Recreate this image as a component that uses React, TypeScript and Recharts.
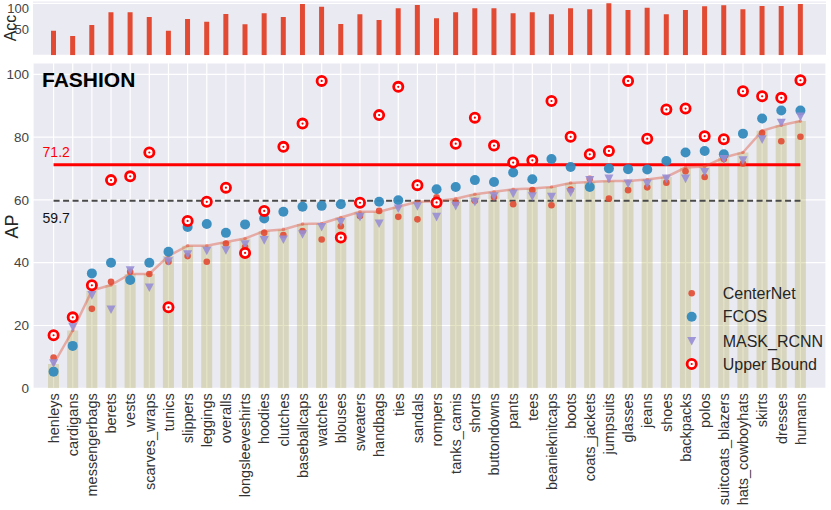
import React from "react";
import {
    ComposedChart, BarChart, Bar, Line, Scatter, XAxis, YAxis, CartesianGrid, ReferenceLine,
} from "recharts";

const categories = [
    "henleys", "cardigans", "messengerbags", "berets", "vests", "scarves_wraps", "tunics", "slippers",
    "leggings", "overalls", "longsleeveshirts", "hoodies", "clutches", "baseballcaps", "watches", "blouses",
    "sweaters", "handbags", "ties", "sandals", "rompers", "tanks_camis", "shorts", "buttondowns", "pants",
    "tees", "beanieknitcaps", "boots", "coats_jackets", "jumpsuits", "glasses", "jeans", "shoes",
    "backpacks", "polos", "suitcoats_blazers", "hats_cowboyhats", "skirts", "dresses", "humans",
];

const acc = [
    47.3, 37.1, 58.3, 82.7, 82.7, 73.7, 47.3, 69.8, 64.6, 79.4, 59.6, 80.8, 73.7, 98.7, 93.5, 60.2,
    78.8, 67.9, 90.4, 96.7, 71.2, 82.7, 90.4, 90.4, 80.8, 82.7, 78.8, 90.4, 88.5, 100, 87.1, 91.5,
    78.8, 87.1, 94.2, 96.2, 88.5, 94.8, 94.8, 98.7,
];

const meanAP = [
    7.7, 18.4, 31.1, 32.9, 36.4, 36.4, 42.1, 45.4, 45.4, 46.6, 47.7, 50.1, 50.6, 52.3, 52.5, 54.4,
    56.2, 56.2, 57.8, 59.4, 59.6, 60.4, 61.8, 62.6, 63.4, 63.6, 64.1, 65.4, 65.7, 66.0, 66.0, 66.5,
    67.3, 70.3, 70.6, 73.5, 75.1, 82.0, 83.8, 85.1,
];

const centerNet = [
    9.8, 22.1, 25.3, 33.9, 37.1, 36.4, 40.3, 42.1, 40.3, 46.1, 45.0, 49.5, 48.8, 50.1, 47.4, 51.6,
    54.9, 56.5, 54.6, 53.8, 60.8, 59.0, 59.7, 60.9, 58.6, 63.1, 58.3, 63.3, 66.7, 60.4, 63.1, 64.0,
    65.5, 69.1, 67.3, 73.0, 71.6, 81.3, 78.7, 80.1,
];

const fcos = [
    5.3, 13.5, 36.6, 40.0, 34.5, 40.0, 43.5, 51.4, 52.3, 49.5, 52.2, 54.1, 56.2, 57.8, 58.1, 58.6,
    59.1, 59.4, 59.9, 64.7, 63.4, 64.1, 66.3, 65.7, 68.7, 66.6, 73.0, 70.5, 64.1, 70.0, 69.8, 69.7,
    72.4, 75.1, 75.6, 74.5, 81.1, 85.9, 88.5, 88.5,
];

const maskRcnn = [
    8.0, 19.6, 29.7, 25.1, 37.6, 32.1, 40.5, 42.7, 43.8, 44.0, 45.9, 47.2, 47.4, 49.1, 51.4, 53.0,
    54.6, 52.5, 57.3, 58.0, 54.6, 58.1, 59.4, 61.2, 62.0, 61.2, 61.0, 62.4, 66.3, 66.8, 65.2, 65.2,
    66.8, 66.8, 68.9, 73.0, 72.6, 79.3, 84.6, 86.6,
];

const upperBound = [
    16.9, 22.6, 32.8, 66.3, 67.5, 75.1, 25.8, 53.3, 59.4, 63.9, 43.1, 56.5, 76.9, 84.3, 97.9, 48.0,
    59.1, 87.0, 96.0, 64.7, 59.2, 77.9, 86.2, 77.3, 71.9, 72.6, 91.5, 80.1, 74.5, 75.6, 97.9, 79.5,
    88.8, 89.1, 80.3, 79.3, 94.6, 93.0, 92.5, 98.1,
];

const upperAvg = 71.2;
const otherAvg = 59.7;

const data = categories.map((name, i) => ({
    name,
    acc: acc[i],
    mean: meanAP[i],
    centernet: centerNet[i],
    fcos: fcos[i],
    mask: maskRcnn[i],
    upper: upperBound[i],
}));

const FONT = '"Liberation Sans", Arial, Helvetica, sans-serif';
const BG = "#eaeaf2";
const XPAD = { left: 11, right: 16 };

// markers
const centerDot = (p: any) => <circle cx={p.cx} cy={p.cy} r={3.3} fill="#e24a33" fillOpacity={0.9} />;
const fcosDot = (p: any) => <circle cx={p.cx} cy={p.cy} r={5} fill="#348abd" fillOpacity={0.95} />;
const tri = (p: any) => (
    <path d={`M${p.cx - 4.5},${p.cy - 4} L${p.cx + 4.5},${p.cy - 4} L${p.cx},${p.cy + 4.6} Z`} fill="#988ed5" fillOpacity={0.9} />
);
const target = (p: any) => (
    <g>
        <circle cx={p.cx} cy={p.cy} r={4.6} fill="#fff" stroke="#ff0000" strokeWidth={2.8} />
        <circle cx={p.cx} cy={p.cy} r={1.1} fill="#ff0000" />
    </g>
);

const XTick = (props: any) => {
    const { x, y, payload } = props;
    return (
        <text x={0} y={0} transform={`translate(${x},${y}) rotate(-90)`} textAnchor="end" dy="0.36em"
            fontSize={14.5} fill="#333" fontFamily={FONT}>
            {payload.value}
        </text>
    );
};

const RefText = (props: any) => {
    const { viewBox, text, color, dy } = props;
    if (!viewBox) return null;
    return (
        <text x={viewBox.x - 11} y={viewBox.y + dy} fill={color} fontSize={14} fontFamily={FONT}>{text}</text>
    );
};

const legendItems = [
    { label: "CenterNet", shape: centerDot },
    { label: "FCOS", shape: fcosDot },
    { label: "MASK_RCNN", shape: tri },
    { label: "Upper Bound", shape: target },
];
const legendRows = [293.3, 316.8, 341, 364];

export default function App() {
    return (
        <div style={{ position: "absolute", left: 0, top: 0, width: 831, height: 510, background: "#fff", fontFamily: FONT }}>
            <div style={{ position: "absolute", left: 0, top: 0 }}>
                <ComposedChart width={831} height={510} data={data} margin={{ top: 63, right: 5, bottom: 0, left: 0 }}>
                    <CartesianGrid fill={BG} stroke="#fff" strokeWidth={1.2} />
                    <XAxis dataKey="name" type="category" interval={0} padding={XPAD} height={121.7}
                        axisLine={false} tickLine={false} tickSize={0} tickMargin={5} tick={<XTick />} />
                    <YAxis type="number" domain={[0, 103.6]} ticks={[0, 20, 40, 60, 80, 100]} width={33}
                        axisLine={false} tickLine={false} tickSize={0} tickMargin={4} allowDataOverflow
                        tick={{ fill: "#444", fontSize: 13.5, fontFamily: FONT }} />
                    <ReferenceLine segment={[{ x: "henleys", y: otherAvg }, { x: "humans", y: otherAvg }]}
                        stroke="#4a4a4a" strokeWidth={2} strokeDasharray="6 3.5"
                        label={<RefText text={String(otherAvg)} color="#111" dy={22} />} />
                    <ReferenceLine segment={[{ x: "henleys", y: upperAvg }, { x: "humans", y: upperAvg }]}
                        stroke="#ff0000" strokeWidth={3.2}
                        label={<RefText text={String(upperAvg)} color="#ff0000" dy={-7.5} />} />
                    <Line dataKey="mean" type="linear" stroke="#e24a33" strokeOpacity={0.4} strokeWidth={2.5}
                        dot={{ r: 1.8, fill: "#e24a33", fillOpacity: 0.45, stroke: "none" }} activeDot={false}
                        isAnimationActive={false} />
                    <Scatter dataKey="centernet" shape={centerDot} isAnimationActive={false} />
                    <Scatter dataKey="fcos" shape={fcosDot} isAnimationActive={false} />
                    <Scatter dataKey="mask" shape={tri} isAnimationActive={false} />
                    <Scatter dataKey="upper" shape={target} isAnimationActive={false} />
                    <Bar dataKey="mean" barSize={11} fill="#aba445" fillOpacity={0.3} isAnimationActive={false} />
                </ComposedChart>
            </div>
            <div style={{ position: "absolute", left: 0, top: 0 }}>
                <BarChart width={831} height={56} data={data} margin={{ top: 1, right: 5, bottom: 0.7, left: 0 }}>
                    <CartesianGrid fill={BG} stroke="#fff" strokeWidth={1.2} vertical={false} />
                    <XAxis dataKey="name" type="category" hide padding={XPAD} />
                    <YAxis type="number" domain={[0, 104.4]} ticks={[0, 50, 100]} width={33}
                        axisLine={false} tickLine={false} tickSize={0} tickMargin={4} allowDataOverflow
                        tick={{ fill: "#444", fontSize: 13, fontFamily: FONT }} />
                    <Bar dataKey="acc" barSize={5} fill="#e24a33" isAnimationActive={false} />
                </BarChart>
            </div>
            <svg width={831} height={510} style={{ position: "absolute", left: 0, top: 0, pointerEvents: "none" }}>
                <text x={0} y={0} transform="translate(10,28) rotate(-90)" textAnchor="middle" dominantBaseline="central"
                    fontSize={16} fill="#262626" fontFamily={FONT}>Acc</text>
                <text x={0} y={0} transform="translate(11.7,226.5) rotate(-90)" textAnchor="middle" dominantBaseline="central"
                    fontSize={18} fill="#262626" fontFamily={FONT}>AP</text>
                <text x={42} y={87} fontSize={21} fontWeight="bold" fill="#000" fontFamily={FONT}>FASHION</text>
                {legendItems.map((item, i) => (
                    <g key={item.label}>
                        {item.shape({ cx: 691.7, cy: legendRows[i] })}
                        <text x={722.7} y={legendRows[i]} dominantBaseline="central" fontSize={16}
                            fill="#262626" fontFamily={FONT}>{item.label}</text>
                    </g>
                ))}
            </svg>
        </div>
    );
}
